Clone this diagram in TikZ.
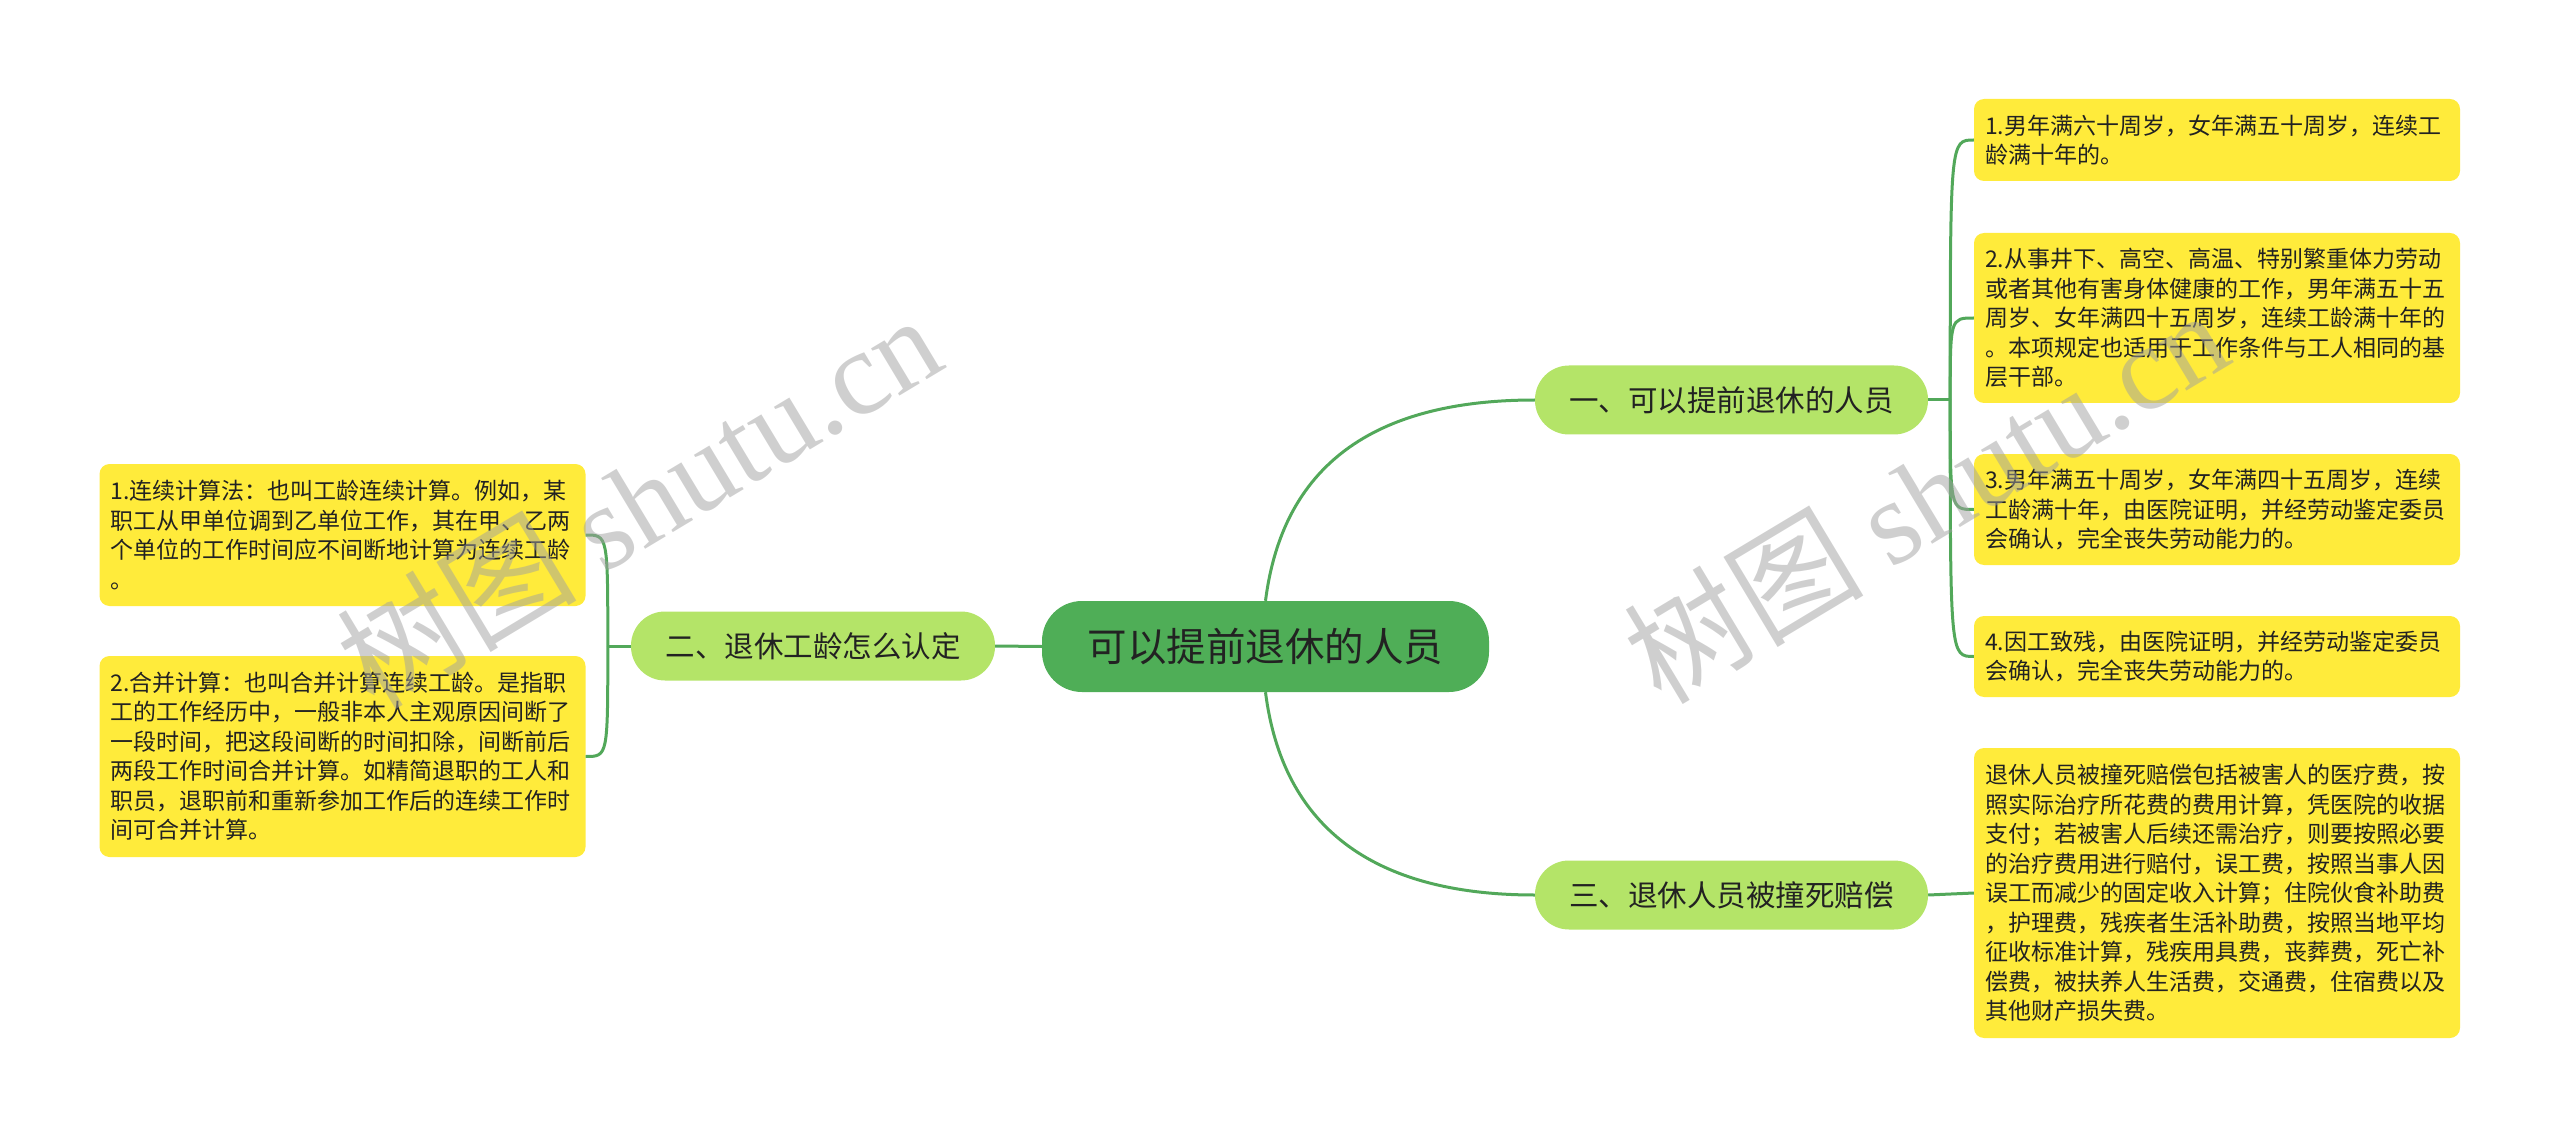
\documentclass[tikz,border=0pt]{standalone}
\usepackage{fontspec}
\setmainfont{Noto Sans CJK SC}
\newfontfamily\wmserif{Liberation Serif}
\usetikzlibrary{calc}
\definecolor{lineg}{HTML}{52A85A}
\definecolor{rootg}{HTML}{4FAE57}
\definecolor{branchg}{HTML}{B4E468}
\definecolor{leafy}{HTML}{FFEB3B}
\definecolor{txt}{HTML}{222222}
\definecolor{wm}{HTML}{A0A0A0}
\begin{document}
\begin{tikzpicture}[x=1pt,y=-1pt,
  rootbox/.style={rectangle, rounded corners=40pt, fill=rootg, minimum width=447pt, minimum height=91pt, inner sep=0pt, font=\fontsize{39.5pt}{46pt}\selectfont, text=txt},
  branchbox/.style={rectangle, rounded corners=34pt, fill=branchg, minimum width=393pt, minimum height=69pt, inner sep=0pt, font=\fontsize{29.5pt}{36pt}\selectfont, text=txt},
  leafbox/.style={rectangle, rounded corners=10pt, fill=leafy, text width=464pt, inner xsep=11pt, inner ysep=0pt, align=left, font=\fontsize{23pt}{29.5pt}\selectfont, text=txt},
  link/.style={draw=lineg, line width=3pt},
  watermark/.style={rotate=31, text=wm, text opacity=0.5, font=\fontsize{120pt}{125pt}\selectfont}
]
\useasboundingbox (0,0) rectangle (2560,1139);

% root and branches
\node[rootbox] (root) at (1265.5,646.5) {可以提前退休的人员};
\node[branchbox] (b1) at (1731.5,400) {一、可以提前退休的人员};
\node[branchbox, minimum width=364pt] (b2) at (813,646) {二、退休工龄怎么认定};
\node[branchbox] (b3) at (1731.5,895) {三、退休人员被撞死赔偿};

% right leaves
\node[leafbox, minimum height=82pt] (r1) at (2217,140) {1.男年满六十周岁，女年满五十周岁，连续工\\龄满十年的。};
\node[leafbox, minimum height=170pt] (r2) at (2217,318) {2.从事井下、高空、高温、特别繁重体力劳动\\或者其他有害身体健康的工作，男年满五十五\\周岁、女年满四十五周岁，连续工龄满十年的\\。本项规定也适用于工作条件与工人相同的基\\层干部。};
\node[leafbox, minimum height=111pt] (r3) at (2217,509.5) {3.男年满五十周岁，女年满四十五周岁，连续\\工龄满十年，由医院证明，并经劳动鉴定委员\\会确认，完全丧失劳动能力的。};
\node[leafbox, minimum height=81pt] (r4) at (2217,656.5) {4.因工致残，由医院证明，并经劳动鉴定委员\\会确认，完全丧失劳动能力的。};
\node[leafbox, minimum height=290pt] (r5) at (2217,893) {退休人员被撞死赔偿包括被害人的医疗费，按\\照实际治疗所花费的费用计算，凭医院的收据\\支付；若被害人后续还需治疗，则要按照必要\\的治疗费用进行赔付，误工费，按照当事人因\\误工而减少的固定收入计算；住院伙食补助费\\，护理费，残疾者生活补助费，按照当地平均\\征收标准计算，残疾用具费，丧葬费，死亡补\\偿费，被扶养人生活费，交通费，住宿费以及\\其他财产损失费。};

% left leaves
\node[leafbox, minimum height=142pt] (l1) at (342.5,535) {1.连续计算法：也叫工龄连续计算。例如，某\\职工从甲单位调到乙单位工作，其在甲、乙两\\个单位的工作时间应不间断地计算为连续工龄\\。};
\node[leafbox, minimum height=201pt] (l2) at (342.5,756.5) {2.合并计算：也叫合并计算连续工龄。是指职\\工的工作经历中，一般非本人主观原因间断了\\一段时间，把这段间断的时间扣除，间断前后\\两段工作时间合并计算。如精简退职的工人和\\职员，退职前和重新参加工作后的连续工作时\\间可合并计算。};

% connectors root -> branches
\draw[link] (root.north) .. controls ($(root.north)+(17,-134)$) and ($(b1.west)+(-163,0)$) .. (b1.west);
\draw[link] (root.south) .. controls ($(root.south)+(17,134)$) and ($(b3.west)+(-163,0)$) .. (b3.west);
\draw[link] (root.west) -- (b2.east);

% branch 1 -> leaves
\coordinate (j1) at ($(b1.east)+(22,0)$);
\draw[link] (b1.east) -- (j1);
\draw[link] (j1) .. controls (j1 |- r1.west) .. (r1.west);
\draw[link] (j1) .. controls (j1 |- r2.west) .. (r2.west);
\draw[link] (j1) .. controls (j1 |- r3.west) .. (r3.west);
\draw[link] (j1) .. controls (j1 |- r4.west) .. (r4.west);

% branch 3 -> leaf
\draw[link] (b3.east) -- (r5.west);

% branch 2 -> leaves
\coordinate (j2) at ($(b2.west)+(-23,0)$);
\draw[link] (b2.west) -- (j2);
\draw[link] (j2) .. controls (j2 |- l1.east) .. (l1.east);
\draw[link] (j2) .. controls (j2 |- l2.east) .. (l2.east);

% watermarks
\node[watermark] (wm1) at (638,500) {树图 {\wmserif shutu.cn}};
\node[watermark] (wm2) at (1925,495) {树图 {\wmserif shutu.cn}};
\end{tikzpicture}
\end{document}
